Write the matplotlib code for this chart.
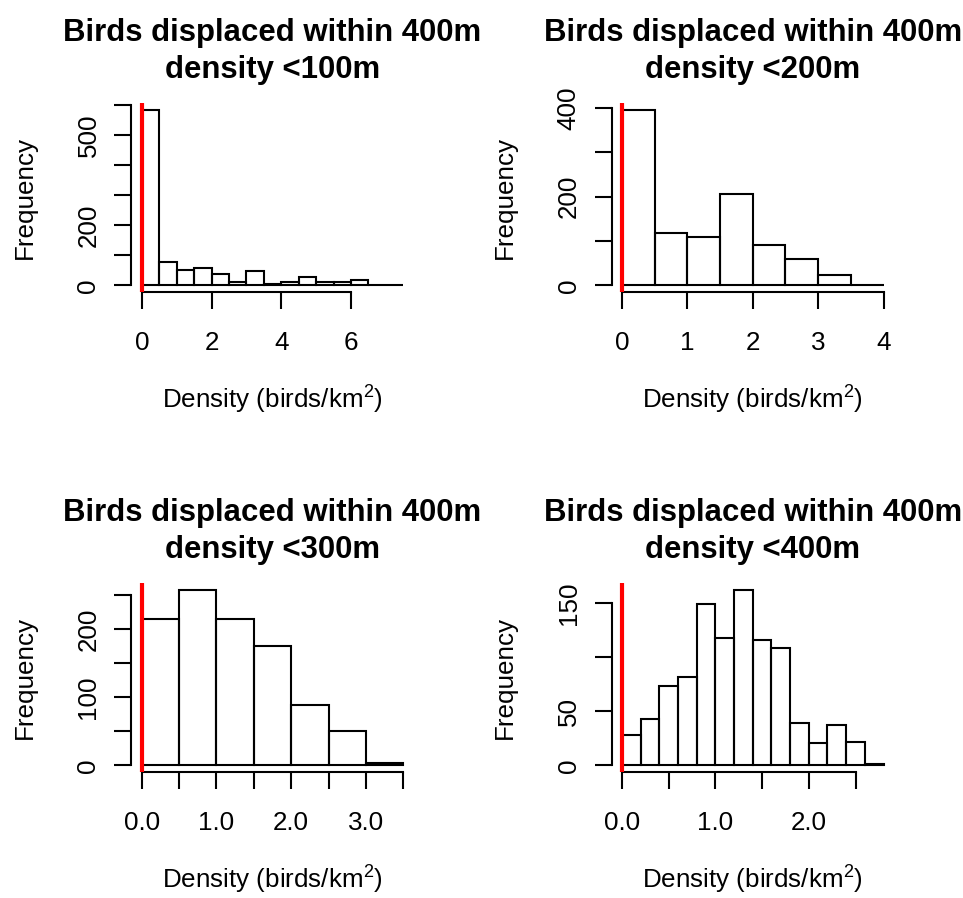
import numpy as np
import matplotlib.pyplot as plt

plt.rcParams['font.family'] = 'Liberation Sans'
plt.rcParams['mathtext.fontset'] = 'custom'
plt.rcParams['mathtext.rm'] = 'Liberation Sans'

# histogram counts per displacement band (bins start at 0)
counts_100 = [583, 79, 51, 59, 39, 12, 46, 5, 12, 26, 12, 12, 19, 0, 0]
counts_200 = [395, 118, 110, 205, 92, 59, 23, 0]
counts_300 = [215, 257, 215, 175, 89, 50, 3]
counts_400 = [28, 43, 73, 82, 149, 118, 162, 116, 109, 39, 21, 37, 22, 1]
bin_widths = [0.5, 0.5, 0.5, 0.2]

titles = ['Birds displaced within 400m\ndensity <100m',
          'Birds displaced within 400m\ndensity <200m',
          'Birds displaced within 400m\ndensity <300m',
          'Birds displaced within 400m\ndensity <400m']

xticks = [[0, 2, 4, 6], [0, 1, 2, 3, 4],
          [0, 0.5, 1, 1.5, 2, 2.5, 3, 3.5], [0, 0.5, 1, 1.5, 2, 2.5]]
xticklabels = [['0', '2', '4', '6'], ['0', '1', '2', '3', '4'],
               ['0.0', '', '1.0', '', '2.0', '', '3.0', ''],
               ['0.0', '', '1.0', '', '2.0', '']]
yticks = [[0, 100, 200, 300, 400, 500, 600], [0, 100, 200, 300, 400],
          [0, 50, 100, 150, 200, 250], [0, 50, 100, 150]]
yticklabels = [['0', '', '200', '', '', '500', ''], ['0', '', '200', '', '400'],
               ['0', '', '100', '', '200', ''], ['0', '50', '', '150']]

all_counts = [counts_100, counts_200, counts_300, counts_400]

W, H = 963, 898
fig = plt.figure(figsize=(W / 100, H / 100), dpi=100)

# plot regions in pixels: left edge, bottom edge (from top), width, height
lefts = [131.3, 611.5, 131.3, 611.5]
bottoms = [292.3, 292.3, 772.3, 772.3]
pw, ph = 282.5, 189.0

for i in range(4):
    counts = np.array(all_counts[i])
    bw = bin_widths[i]
    edges = np.arange(len(counts) + 1) * bw
    ax = fig.add_axes([lefts[i] / W, 1 - bottoms[i] / H, pw / W, ph / H])

    ax.bar(edges[:-1], counts, width=bw, align='edge', fill=False,
           edgecolor='black', linewidth=1.5)
    ax.axvline(0, color='red', linewidth=3, zorder=5)

    rng = edges[-1] - edges[0]
    ax.set_xlim(edges[0] - 0.04 * rng, edges[-1] + 0.04 * rng)
    ymax = counts.max()
    ax.set_ylim(-0.04 * ymax, 1.04 * ymax)

    for s in ['top', 'right']:
        ax.spines[s].set_visible(False)
    ax.spines['left'].set_bounds(yticks[i][0], yticks[i][-1])
    ax.spines['bottom'].set_bounds(xticks[i][0], xticks[i][-1])
    ax.spines['left'].set_linewidth(1.5)
    ax.spines['bottom'].set_linewidth(1.5)

    ax.set_xticks(xticks[i])
    ax.set_xticklabels(xticklabels[i])
    ax.set_yticks(yticks[i])
    ax.set_yticklabels(yticklabels[i], rotation=90, va='center')
    ax.tick_params(axis='both', length=12.2, width=1.5, labelsize=18.7)
    ax.tick_params(axis='x', pad=16)
    ax.tick_params(axis='y', pad=10)

    ax.set_xlabel(r'Density (birds/km$^{\mathrm{2}}$)', fontsize=18.7)
    ax.xaxis.label.set_va('baseline')
    ax.xaxis.set_label_coords(0.5, -(408 - 292.3) / ph)
    ax.set_ylabel('Frequency', fontsize=18.7)
    ax.yaxis.label.set_va('baseline')
    ax.yaxis.set_label_coords(-(131.3 - 31.5) / pw, 0.5)

    ax.set_title(titles[i], fontweight='bold', fontsize=22.4, pad=18.5,
                 linespacing=1.3)

fig.savefig('out.png', dpi=100)
